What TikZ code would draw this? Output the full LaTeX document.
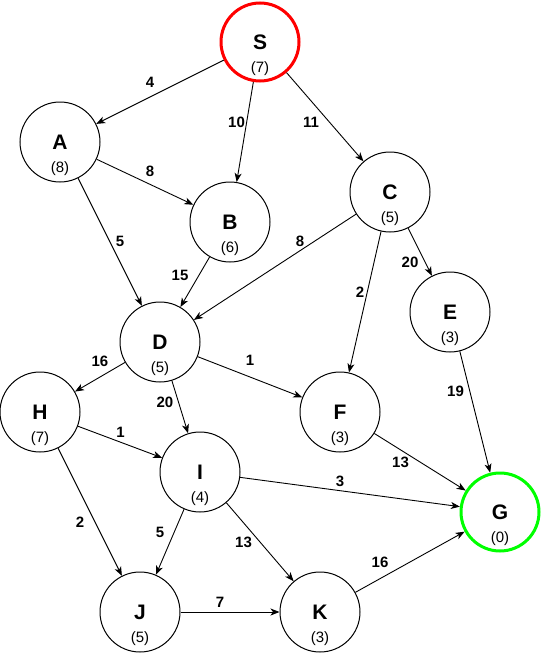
\documentclass[tikz,border=0pt]{standalone}
\usepackage{fontspec}
\setmainfont{Liberation Sans}
\usetikzlibrary{arrows.meta}
\definecolor{startred}{RGB}{255,0,0}
\definecolor{goalgreen}{RGB}{0,255,0}
\begin{document}
\begin{tikzpicture}[x=1pt,y=-1pt,
  nd/.style={circle,draw=black,line width=1pt,minimum size=80pt,inner sep=0pt,fill=white,
    font=\bfseries\fontsize{21}{21}\selectfont},
  startnd/.style={nd,draw=startred,line width=3pt,minimum size=78pt},
  goalnd/.style={nd,draw=goalgreen,line width=3pt,minimum size=78pt},
  hv/.style={inner sep=0pt,font=\fontsize{15}{15}\selectfont},
  lbl/.style={inner sep=0pt,font=\bfseries\fontsize{15}{15}\selectfont},
  arr/.style={draw=black,line width=0.9pt,-{Stealth[length=9pt,width=7pt,inset=2.5pt]}}
]
\useasboundingbox (0,0) rectangle (543,653);
% nodes
\node[startnd] (S) at (260,42) {S};
\node[nd] (A) at (60,142) {A};
\node[nd] (B) at (230,222) {B};
\node[nd] (C) at (390,192) {C};
\node[nd] (D) at (160,342) {D};
\node[nd] (E) at (450,312) {E};
\node[nd] (F) at (340,412) {F};
\node[nd] (H) at (40,412) {H};
\node[nd] (I) at (200,472) {I};
\node[goalnd] (G) at (500,512) {G};
\node[nd] (J) at (140,612) {J};
\node[nd] (K) at (320,612) {K};
% heuristic values
\node[hv] (Sh) at ([yshift=-26.5pt]S.center) {(7)};
\node[hv] (Ah) at ([yshift=-26.5pt]A.center) {(8)};
\node[hv] (Bh) at ([yshift=-26.5pt]B.center) {(6)};
\node[hv] (Ch) at ([yshift=-26.5pt]C.center) {(5)};
\node[hv] (Dh) at ([yshift=-26.5pt]D.center) {(5)};
\node[hv] (Eh) at ([yshift=-26.5pt]E.center) {(3)};
\node[hv] (Fh) at ([yshift=-26.5pt]F.center) {(3)};
\node[hv] (Hh) at ([yshift=-26.5pt]H.center) {(7)};
\node[hv] (Ih) at ([yshift=-26.5pt]I.center) {(4)};
\node[hv] (Gh) at ([yshift=-26.5pt]G.center) {(0)};
\node[hv] (Jh) at ([yshift=-26.5pt]J.center) {(5)};
\node[hv] (Kh) at ([yshift=-26.5pt]K.center) {(3)};
% edges
\draw[arr] (S) -- (A);
\draw[arr] (S) -- (B);
\draw[arr] (S) -- (C);
\draw[arr] (A) -- (B);
\draw[arr] (A) -- (D);
\draw[arr] (B) -- (D);
\draw[arr] (C) -- (D);
\draw[arr] (C) -- (F);
\draw[arr] (C) -- (E);
\draw[arr] (E) -- (G);
\draw[arr] (F) -- (G);
\draw[arr] (I) -- (G);
\draw[arr] (K) -- (G);
\draw[arr] (D) -- (H);
\draw[arr] (D) -- (F);
\draw[arr] (D) -- (I);
\draw[arr] (H) -- (I);
\draw[arr] (H) -- (J);
\draw[arr] (I) -- (J);
\draw[arr] (I) -- (K);
\draw[arr] (J) -- (K);
% edge weights
\node[lbl] (wSA) at (150,82) {4};
\node[lbl] (wSB) at (236.5,122) {10};
\node[lbl] (wSC) at (311,122) {11};
\node[lbl] (wAB) at (150,171.5) {8};
\node[lbl] (wAD) at (120,241) {5};
\node[lbl] (wBD) at (180,275) {15};
\node[lbl] (wCD) at (300,241) {8};
\node[lbl] (wCF) at (360,292) {2};
\node[lbl] (wCE) at (410,262) {20};
\node[lbl] (wEG) at (455.5,391) {19};
\node[lbl] (wFG) at (400.5,462) {13};
\node[lbl] (wIG) at (340,481) {3};
\node[lbl] (wKG) at (380,562) {16};
\node[lbl] (wDH) at (100,361) {16};
\node[lbl] (wDF) at (250,360) {1};
\node[lbl] (wDI) at (165,402) {20};
\node[lbl] (wHI) at (120.5,432) {1};
\node[lbl] (wHJ) at (80,522) {2};
\node[lbl] (wIJ) at (160,532) {5};
\node[lbl] (wIK) at (243.5,542) {13};
\node[lbl] (wJK) at (220,602) {7};
\end{tikzpicture}
\end{document}
